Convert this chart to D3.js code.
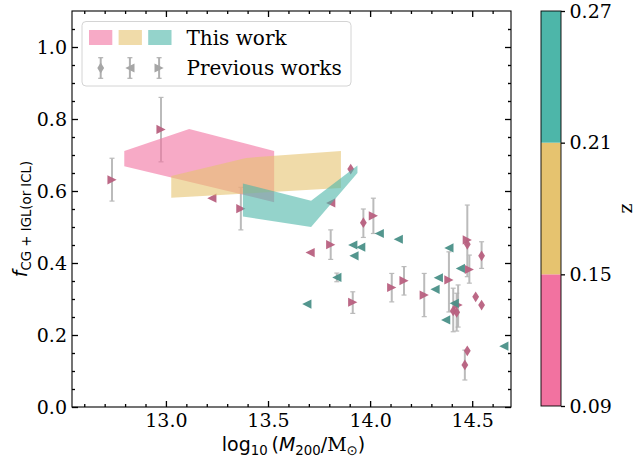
<!DOCTYPE html>
<html>
<head>
<meta charset="utf-8">
<script src="https://cdn.jsdelivr.net/npm/d3@7"></script>
<style>
  body { margin: 0; background: #fff; }
</style>
</head>
<body>
<div id="chart"></div>
<script>
// ---- data: previous works, [log10 M200, f, errLow, errHigh] ----
const pinkRight = [
  [12.736, 0.631, 0.572, 0.691],
  [12.976, 0.771, 0.681, 0.860],
  [13.367, 0.551, 0.492, 0.610],
  [13.807, 0.451, 0.410, 0.492],
  [14.016, 0.531, 0.482, 0.580],
  [13.915, 0.291, 0.260, 0.320],
  [14.106, 0.332, 0.292, 0.371],
  [14.166, 0.351, 0.311, 0.390],
  [14.265, 0.311, 0.251, 0.371],
  [14.386, 0.353, 0.264, 0.431],
  [14.476, 0.464, 0.362, 0.561],
  [14.486, 0.382, 0.344, 0.422],
  [14.431, 0.283, 0.222, 0.339]
];
const pinkLeft = [
  [13.225, 0.580],
  [13.807, 0.567],
  [13.706, 0.429]
];
const pinkDiamond = [
  [13.905, 0.661],
  [13.967, 0.512, 0.471, 0.550],
  [14.476, 0.452],
  [14.546, 0.420, 0.385, 0.459],
  [14.517, 0.306],
  [14.546, 0.283],
  [14.407, 0.267, 0.209, 0.330],
  [14.424, 0.263, 0.211, 0.316],
  [14.476, 0.156],
  [14.464, 0.117, 0.075, 0.158]
];
const tealLeft = [
  [14.045, 0.482],
  [14.138, 0.466],
  [13.915, 0.450],
  [13.954, 0.444],
  [13.921, 0.420],
  [13.837, 0.360, 0.348, 0.372],
  [13.690, 0.286],
  [14.386, 0.442],
  [14.334, 0.359],
  [14.318, 0.327],
  [14.442, 0.385],
  [14.412, 0.288],
  [14.370, 0.242],
  [14.655, 0.169]
];

// ---- data: this work, polygon outlines per redshift bin ----
const pinkPoly = [[12.796, 0.711], [13.114, 0.772], [13.53, 0.711], [13.53, 0.569], [12.796, 0.669]];
const yellowPoly = [[13.026, 0.642], [13.393, 0.692], [13.857, 0.711], [13.857, 0.608], [13.026, 0.581]];
const tealPoly = [[13.377, 0.621], [13.711, 0.573], [13.938, 0.671], [13.938, 0.650], [13.711, 0.500], [13.377, 0.529]];

// ---- ticks / colorbar ----
const xMajor = [13.0, 13.5, 14.0, 14.5];
const yMajor = [0, 0.2, 0.4, 0.6, 0.8, 1.0];
const zBounds = [0.09, 0.15, 0.21, 0.27];
const zColors = ['#f272a0', '#e6c36f', '#4db6a9'];

// Layout
const W = 635, H = 461;
const plot = { left: 72, right: 511, top: 11, bottom: 407 };
const serif = "'DejaVu Serif', 'Liberation Serif', serif";
const sans = "'DejaVu Sans', sans-serif";
const markerPink = '#b8607f';
const markerTeal = '#4a9088';
const errColor = '#b0b0b0';

const x = d3.scaleLinear().domain([12.54, 14.69]).range([plot.left, plot.right]);
const y = d3.scaleLinear().domain([0, 1.1]).range([plot.bottom, plot.top]);

const svg = d3.select('#chart').append('svg')
  .attr('width', W).attr('height', H)
  .attr('font-family', serif);

// marker shapes (pixel units)
function markerPath(shape) {
  const s = 4.6;
  if (shape === '>') return `M${s},0L${-s},${-s}L${-s},${s}Z`;
  if (shape === '<') return `M${-s},0L${s},${-s}L${s},${s}Z`;
  return 'M0,-5.4L3.4,0L0,5.4L-3.4,0Z';
}

svg.append('clipPath').attr('id', 'plotclip')
  .append('rect')
  .attr('x', plot.left).attr('y', plot.top)
  .attr('width', plot.right - plot.left).attr('height', plot.bottom - plot.top);

const dataG = svg.append('g').attr('clip-path', 'url(#plotclip)');

const seriesList = [
  { data: pinkRight, shape: '>', color: markerPink },
  { data: pinkLeft, shape: '<', color: markerPink },
  { data: pinkDiamond, shape: 'd', color: markerPink },
  { data: tealLeft, shape: '<', color: markerTeal }
];

// error bars first
seriesList.forEach((s) => {
  const withErr = s.data.filter((d) => d.length > 2);
  const g = dataG.append('g').attr('stroke', errColor).attr('stroke-width', 2).attr('opacity', 0.85);
  withErr.forEach((d) => {
    const cx = x(d[0]);
    g.append('line').attr('x1', cx).attr('x2', cx).attr('y1', y(d[2])).attr('y2', y(d[3]));
    g.append('line').attr('x1', cx - 2.5).attr('x2', cx + 2.5).attr('y1', y(d[2])).attr('y2', y(d[2])).attr('stroke-width', 1.2);
    g.append('line').attr('x1', cx - 2.5).attr('x2', cx + 2.5).attr('y1', y(d[3])).attr('y2', y(d[3])).attr('stroke-width', 1.2);
  });
});

// markers
seriesList.forEach((s) => {
  dataG.append('g').selectAll('path')
    .data(s.data)
    .join('path')
    .attr('d', markerPath(s.shape))
    .attr('transform', (d) => `translate(${x(d[0])},${y(d[1])})`)
    .attr('fill', s.color)
    .attr('opacity', 0.95);
});

// this work polygons (drawn over markers)
const area = d3.line().x((d) => x(d[0])).y((d) => y(d[1]));
[[pinkPoly, zColors[0]], [yellowPoly, zColors[1]], [tealPoly, zColors[2]]].forEach(([poly, col]) => {
  dataG.append('path')
    .attr('d', area(poly) + 'Z')
    .attr('fill', col)
    .attr('fill-opacity', 0.6)
    .attr('stroke', 'none');
});

// ---- axes ----
const xMinor = d3.range(12.6, 14.65, 0.1).map((v) => +v.toFixed(2)).filter((v) => !xMajor.some((m) => Math.abs(m - v) < 1e-6));
const yMinor = d3.range(0.05, 1.1, 0.05).map((v) => +v.toFixed(2)).filter((v) => !yMajor.some((m) => Math.abs(m - v) < 1e-6));

function styleAxis(g) {
  g.attr('font-family', serif);
  g.selectAll('.domain').remove();
  g.selectAll('.tick line').attr('stroke', '#000').attr('stroke-width', 1.3);
  g.selectAll('.tick text').attr('fill', '#000').attr('font-size', 19).attr('font-family', serif);
}

// bottom
svg.append('g').attr('transform', `translate(0,${plot.bottom})`)
  .call(d3.axisBottom(x).tickValues(xMajor).tickFormat(d3.format('.1f')).tickSizeInner(-6).tickSizeOuter(0).tickPadding(6.5))
  .call(styleAxis);
svg.append('g').attr('transform', `translate(0,${plot.bottom})`)
  .call(d3.axisBottom(x).tickValues(xMinor).tickFormat('').tickSizeInner(-3).tickSizeOuter(0))
  .call(styleAxis);
// top
svg.append('g').attr('transform', `translate(0,${plot.top})`)
  .call(d3.axisTop(x).tickValues(xMajor).tickFormat('').tickSizeInner(-6).tickSizeOuter(0))
  .call(styleAxis);
svg.append('g').attr('transform', `translate(0,${plot.top})`)
  .call(d3.axisTop(x).tickValues(xMinor).tickFormat('').tickSizeInner(-3).tickSizeOuter(0))
  .call(styleAxis);
// left
svg.append('g').attr('transform', `translate(${plot.left},0)`)
  .call(d3.axisLeft(y).tickValues(yMajor).tickFormat(d3.format('.1f')).tickSizeInner(-6).tickSizeOuter(0).tickPadding(5))
  .call(styleAxis);
svg.append('g').attr('transform', `translate(${plot.left},0)`)
  .call(d3.axisLeft(y).tickValues(yMinor).tickFormat('').tickSizeInner(-3).tickSizeOuter(0))
  .call(styleAxis);
// right
svg.append('g').attr('transform', `translate(${plot.right},0)`)
  .call(d3.axisRight(y).tickValues(yMajor).tickFormat('').tickSizeInner(-6).tickSizeOuter(0))
  .call(styleAxis);
svg.append('g').attr('transform', `translate(${plot.right},0)`)
  .call(d3.axisRight(y).tickValues(yMinor).tickFormat('').tickSizeInner(-3).tickSizeOuter(0))
  .call(styleAxis);

// frame
svg.append('rect')
  .attr('x', plot.left).attr('y', plot.top)
  .attr('width', plot.right - plot.left).attr('height', plot.bottom - plot.top)
  .attr('fill', 'none').attr('stroke', '#000').attr('stroke-width', 1.1);

// x label
const xl = svg.append('text')
  .attr('x', (plot.left + plot.right) / 2 + 2).attr('y', 451)
  .attr('text-anchor', 'middle')
  .attr('font-family', sans).attr('font-size', 19).attr('fill', '#000');
xl.append('tspan').text('log');
xl.append('tspan').attr('font-size', 13.3).attr('dy', 4).text('10');
xl.append('tspan').attr('dy', -4).text('\u2009(');
xl.append('tspan').attr('font-style', 'italic').text('M');
xl.append('tspan').attr('font-size', 13.3).attr('dy', 4).text('200');
xl.append('tspan').attr('dy', -4).text('/');
xl.append('tspan').attr('font-family', serif).text('M');
xl.append('tspan').attr('font-size', 13.3).attr('dy', 4).text('\u2299');
xl.append('tspan').attr('dy', -4).text(')');

// y label
const yl = svg.append('text')
  .attr('transform', `translate(27,${(plot.top + plot.bottom) / 2 + 10}) rotate(-90)`)
  .attr('text-anchor', 'middle')
  .attr('font-family', sans).attr('font-size', 19).attr('fill', '#000');
yl.append('tspan').attr('font-style', 'italic').text('f');
yl.append('tspan').attr('font-size', 13.3).attr('dy', 4).text('CG + IGL(or ICL)');

// ---- legend ----
const lg = svg.append('g').attr('font-family', serif);
lg.append('rect')
  .attr('x', 82).attr('y', 21.5).attr('width', 269).attr('height', 64.5).attr('rx', 4)
  .attr('fill', '#fff').attr('fill-opacity', 0.8)
  .attr('stroke', '#d4d4d4').attr('stroke-width', 1);
zColors.forEach((c, i) => {
  lg.append('rect')
    .attr('x', 89 + i * 29.6).attr('y', 30).attr('width', 23.3).attr('height', 15)
    .attr('fill', c).attr('fill-opacity', 0.6);
});
lg.append('text').attr('x', 186.5).attr('y', 45).attr('font-family', serif).attr('font-size', 20).attr('fill', '#000').text('This work');
['d', '<', '>'].forEach((shape, i) => {
  const cx = 100.7 + i * 29.2, cy = 68;
  lg.append('line').attr('x1', cx).attr('x2', cx).attr('y1', cy - 10.3).attr('y2', cy + 10.3)
    .attr('stroke', errColor).attr('stroke-width', 2);
  [cy - 10.3, cy + 10.3].forEach((yy) => {
    lg.append('line').attr('x1', cx - 2.5).attr('x2', cx + 2.5).attr('y1', yy).attr('y2', yy)
      .attr('stroke', errColor).attr('stroke-width', 1.2);
  });
  lg.append('path').attr('d', markerPath(shape))
    .attr('transform', `translate(${cx},${cy})`)
    .attr('fill', '#a6a6a6');
});
lg.append('text').attr('x', 186.5).attr('y', 74.5).attr('font-family', serif).attr('font-size', 20).attr('fill', '#000').text('Previous works');

// ---- colorbar ----
const cb = { left: 541, right: 561, top: 11, bottom: 406 };
const z = d3.scaleLinear().domain([zBounds[0], zBounds[zBounds.length - 1]]).range([cb.bottom, cb.top]);
zColors.forEach((c, i) => {
  svg.append('rect')
    .attr('x', cb.left).attr('y', z(zBounds[i + 1]))
    .attr('width', cb.right - cb.left).attr('height', z(zBounds[i]) - z(zBounds[i + 1]))
    .attr('fill', c);
});
svg.append('rect')
  .attr('x', cb.left).attr('y', cb.top)
  .attr('width', cb.right - cb.left).attr('height', cb.bottom - cb.top)
  .attr('fill', 'none').attr('stroke', '#000').attr('stroke-width', 0.9);
svg.append('g').attr('transform', `translate(${cb.right},0)`)
  .call(d3.axisRight(z).tickValues(zBounds).tickFormat(d3.format('.2f')).tickSizeInner(4).tickSizeOuter(0).tickPadding(4.5))
  .call(styleAxis);
svg.append('text')
  .attr('transform', `translate(632,${(cb.top + cb.bottom) / 2}) rotate(-90)`)
  .attr('text-anchor', 'middle')
  .attr('font-family', serif).attr('font-size', 19).attr('fill', '#000')
  .text('z');
</script>
</body>
</html>
